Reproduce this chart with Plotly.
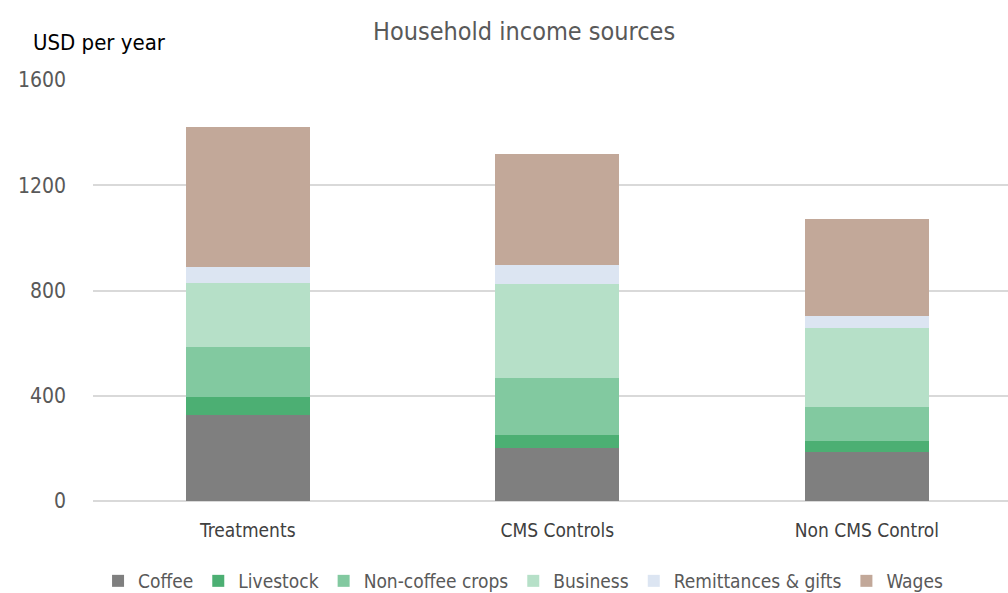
import plotly.graph_objects as go

categories = ["Treatments", "CMS Controls", "Non CMS Control"]
series_names = ["Coffee", "Livestock", "Non-coffee crops", "Business", "Remittances & gifts", "Wages"]
coffee = [325, 203, 188]
livestock = [71, 48, 39]
non_coffee = [190, 218, 130]
business = [243, 354, 300]
remittances = [61, 74, 47]
wages = [533, 423, 367]
y_ticks = [0, 400, 800, 1200, 1600]

values = [coffee, livestock, non_coffee, business, remittances, wages]
colors = ["#7f7f7f", "#4caf73", "#82c9a0", "#b6e0c8", "#dce5f2", "#c2a899"]

FONT = "DejaVu Sans Condensed, Liberation Sans Narrow, Arial Narrow, sans-serif"

fig = go.Figure()
for name, vals, col in zip(series_names, values, colors):
    fig.add_trace(go.Bar(
        x=categories, y=vals, name=name,
        marker=dict(color=col, line=dict(width=0)),
        width=0.4,
    ))

fig.update_layout(
    barmode="stack",
    width=1008, height=593,
    margin=dict(l=93, r=0, t=80, b=92, autoexpand=False),
    paper_bgcolor="white", plot_bgcolor="white",
    font=dict(family=FONT, color="#595959"),
    title=dict(text="Household income sources", x=0.52, xanchor="center",
               y=0.947, yanchor="middle",
               font=dict(size=25, color="#595959", family=FONT)),
    xaxis=dict(range=[-0.5, 2.456], showgrid=False, showline=False,
               tickfont=dict(size=19, color="#404040"), ticks="", ticklabelstandoff=16),
    yaxis=dict(range=[0, 1600], tickvals=y_ticks, showgrid=True,
               gridcolor="#d9d9d9", gridwidth=1.5, zeroline=True,
               zerolinecolor="#d9d9d9", zerolinewidth=1.5,
               tickfont=dict(size=21, color="#595959"), ticks="", ticklabelstandoff=26),
    legend=dict(orientation="h", x=0.47, xanchor="center", y=-0.19, yanchor="middle",
                font=dict(size=19, color="#595959"), traceorder="normal",
                itemwidth=30),
    showlegend=True,
    bargap=0.6,
)

fig.add_annotation(text="USD per year", xref="paper", yref="paper",
                   x=-0.068, y=1.09, xanchor="left", yanchor="middle", showarrow=False,
                   font=dict(size=22, color="#000000", family=FONT))

fig.write_html("out.html")
